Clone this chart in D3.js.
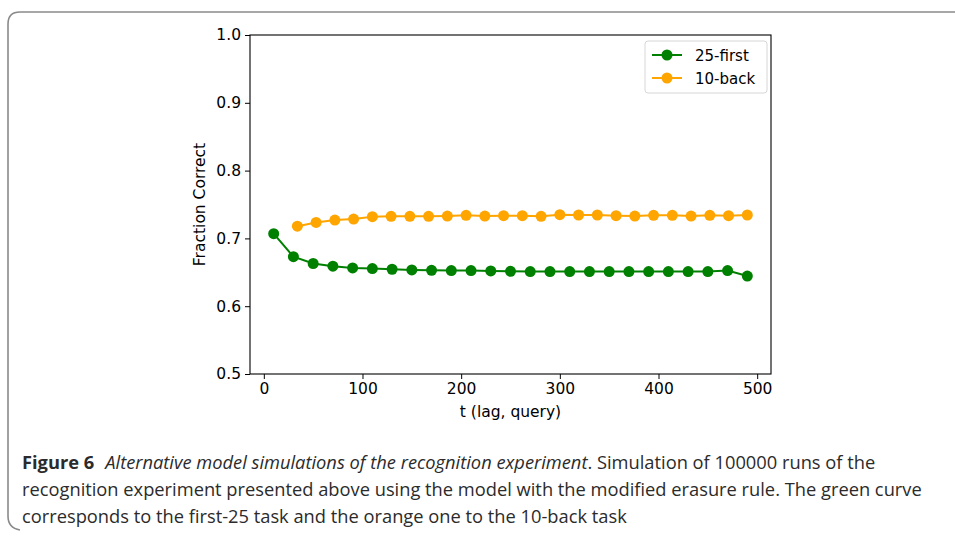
<!DOCTYPE html>
<html>
<head>
<meta charset="utf-8">
<script src="https://cdn.jsdelivr.net/npm/d3@7"></script>
<style>
  body { margin: 0; background: #fff; }
</style>
</head>
<body>
<div id="chart"></div>
<script>
// 25-first series (green)
var firstX = [10, 30, 50, 70, 90, 110, 130, 150, 170, 190, 210, 230, 250, 270, 290, 310, 330, 350, 370, 390, 410, 430, 450, 470, 490];
var firstY = [0.707, 0.673, 0.663, 0.659, 0.6565, 0.6555, 0.6545, 0.6535, 0.653, 0.6525, 0.6525, 0.652, 0.6515, 0.651, 0.651, 0.651, 0.651, 0.651, 0.651, 0.651, 0.651, 0.651, 0.651, 0.6525, 0.6445];
// 10-back series (orange)
var backX = [34, 53, 72, 91, 110, 129, 148, 167, 186, 205, 224, 243, 262, 281, 300, 319, 338, 357, 376, 395, 414, 433, 452, 471, 490];
var backY = [0.718, 0.7235, 0.727, 0.7285, 0.732, 0.7325, 0.7325, 0.7325, 0.733, 0.734, 0.733, 0.7335, 0.7335, 0.7325, 0.735, 0.7345, 0.7345, 0.7335, 0.733, 0.734, 0.734, 0.733, 0.734, 0.7335, 0.7345];
var seriesNames = ["25-first", "10-back"];
var seriesColors = ["green", "orange"];
var xTicks = [0, 100, 200, 300, 400, 500];
var yTicks = [0.5, 0.6, 0.7, 0.8, 0.9, 1.0];

var width = 955, height = 539;
var mpl = "'DejaVu Sans', sans-serif";
var capFont = "'Open Sans', 'Noto Sans', sans-serif";
var fs = "15.5px";

var svg = d3.select("#chart").append("svg")
    .attr("width", width).attr("height", height);

// card border: top and left edges with rounded corners
svg.append("path")
    .attr("d", "M 960 12 L 20 12 Q 8 12 8 24 L 8 516 Q 8 528 20 530")
    .attr("fill", "none")
    .attr("stroke", "#8a8a8a")
    .attr("stroke-width", 1.6);

var pLeft = 250, pRight = 771, pTop = 35, pBottom = 374;

var x = d3.scaleLinear().domain([-14, 514]).range([pLeft, pRight]);
var y = d3.scaleLinear().domain([0.5, 1.0]).range([pBottom, pTop]);

var plot = svg.append("g");

// axes
plot.append("g")
    .attr("transform", "translate(0," + pBottom + ")")
    .call(d3.axisBottom(x).tickValues(xTicks).tickSize(5).tickPadding(4).tickFormat(d3.format("d")))
    .call(function(g) { g.select(".domain").remove(); });
plot.append("g")
    .attr("transform", "translate(" + pLeft + ",0)")
    .call(d3.axisLeft(y).tickValues(yTicks).tickSize(5).tickPadding(4).tickFormat(d3.format(".1f")))
    .call(function(g) { g.select(".domain").remove(); });

plot.selectAll(".tick line").attr("stroke", "#000").attr("stroke-width", 1);
plot.selectAll(".tick text")
    .attr("fill", "#000")
    .style("font-size", fs)
    .style("font-family", mpl);

// frame
plot.append("rect")
    .attr("x", pLeft).attr("y", pTop)
    .attr("width", pRight - pLeft).attr("height", pBottom - pTop)
    .attr("fill", "none").attr("stroke", "#000").attr("stroke-width", 1.1);

// axis labels
svg.append("text")
    .attr("x", (pLeft + pRight) / 2).attr("y", 417)
    .attr("text-anchor", "middle")
    .style("font-family", mpl)
    .style("font-size", fs)
    .text("t (lag, query)");
svg.append("text")
    .attr("transform", "translate(205," + ((pTop + pBottom) / 2) + ") rotate(-90)")
    .attr("text-anchor", "middle")
    .style("font-family", mpl)
    .style("font-size", fs)
    .text("Fraction Correct");

// series
var series = [
  { name: seriesNames[0], color: seriesColors[0], pts: firstX.map(function(d, i) { return [d, firstY[i]]; }) },
  { name: seriesNames[1], color: seriesColors[1], pts: backX.map(function(d, i) { return [d, backY[i]]; }) }
];

var line = d3.line()
    .x(function(d) { return x(d[0]); })
    .y(function(d) { return y(d[1]); });

series.forEach(function(s) {
  plot.append("path")
      .attr("d", line(s.pts))
      .attr("fill", "none")
      .attr("stroke", s.color)
      .attr("stroke-width", 2);
  plot.selectAll(null)
      .data(s.pts)
      .enter()
      .append("circle")
      .attr("cx", function(d) { return x(d[0]); })
      .attr("cy", function(d) { return y(d[1]); })
      .attr("r", 5.5)
      .attr("fill", s.color);
});

// legend
var lg = svg.append("g").attr("transform", "translate(645,41)");
lg.append("rect")
    .attr("width", 122).attr("height", 52).attr("rx", 3)
    .attr("fill", "#fff").attr("stroke", "#d6d6d6").attr("stroke-width", 1);
series.forEach(function(s, i) {
  var yy = 14 + i * 23;
  lg.append("line")
      .attr("x1", 7).attr("x2", 37).attr("y1", yy).attr("y2", yy)
      .attr("stroke", s.color).attr("stroke-width", 2);
  lg.append("circle").attr("cx", 22).attr("cy", yy).attr("r", 5.5).attr("fill", s.color);
  lg.append("text")
      .attr("x", 50).attr("y", yy + 5.5)
      .style("font-family", mpl)
      .style("font-size", "15px")
      .text(s.name);
});

// caption
function capText(yy) {
  return svg.append("text").attr("x", 22).attr("y", yy)
      .style("font-family", capFont)
      .style("font-size", "18.3px")
      .attr("fill", "#2b2b2b");
}
var t1 = capText(469);
t1.append("tspan").style("font-weight", "bold").text("Figure 6");
t1.append("tspan").attr("dx", 11).style("font-style", "italic").text("Alternative model simulations of the recognition experiment");
t1.append("tspan").text(". Simulation of 100000 runs of the");
capText(496).text("recognition experiment presented above using the model with the modified erasure rule. The green curve");
capText(523).text("corresponds to the first-25 task and the orange one to the 10-back task");
</script>
</body>
</html>
